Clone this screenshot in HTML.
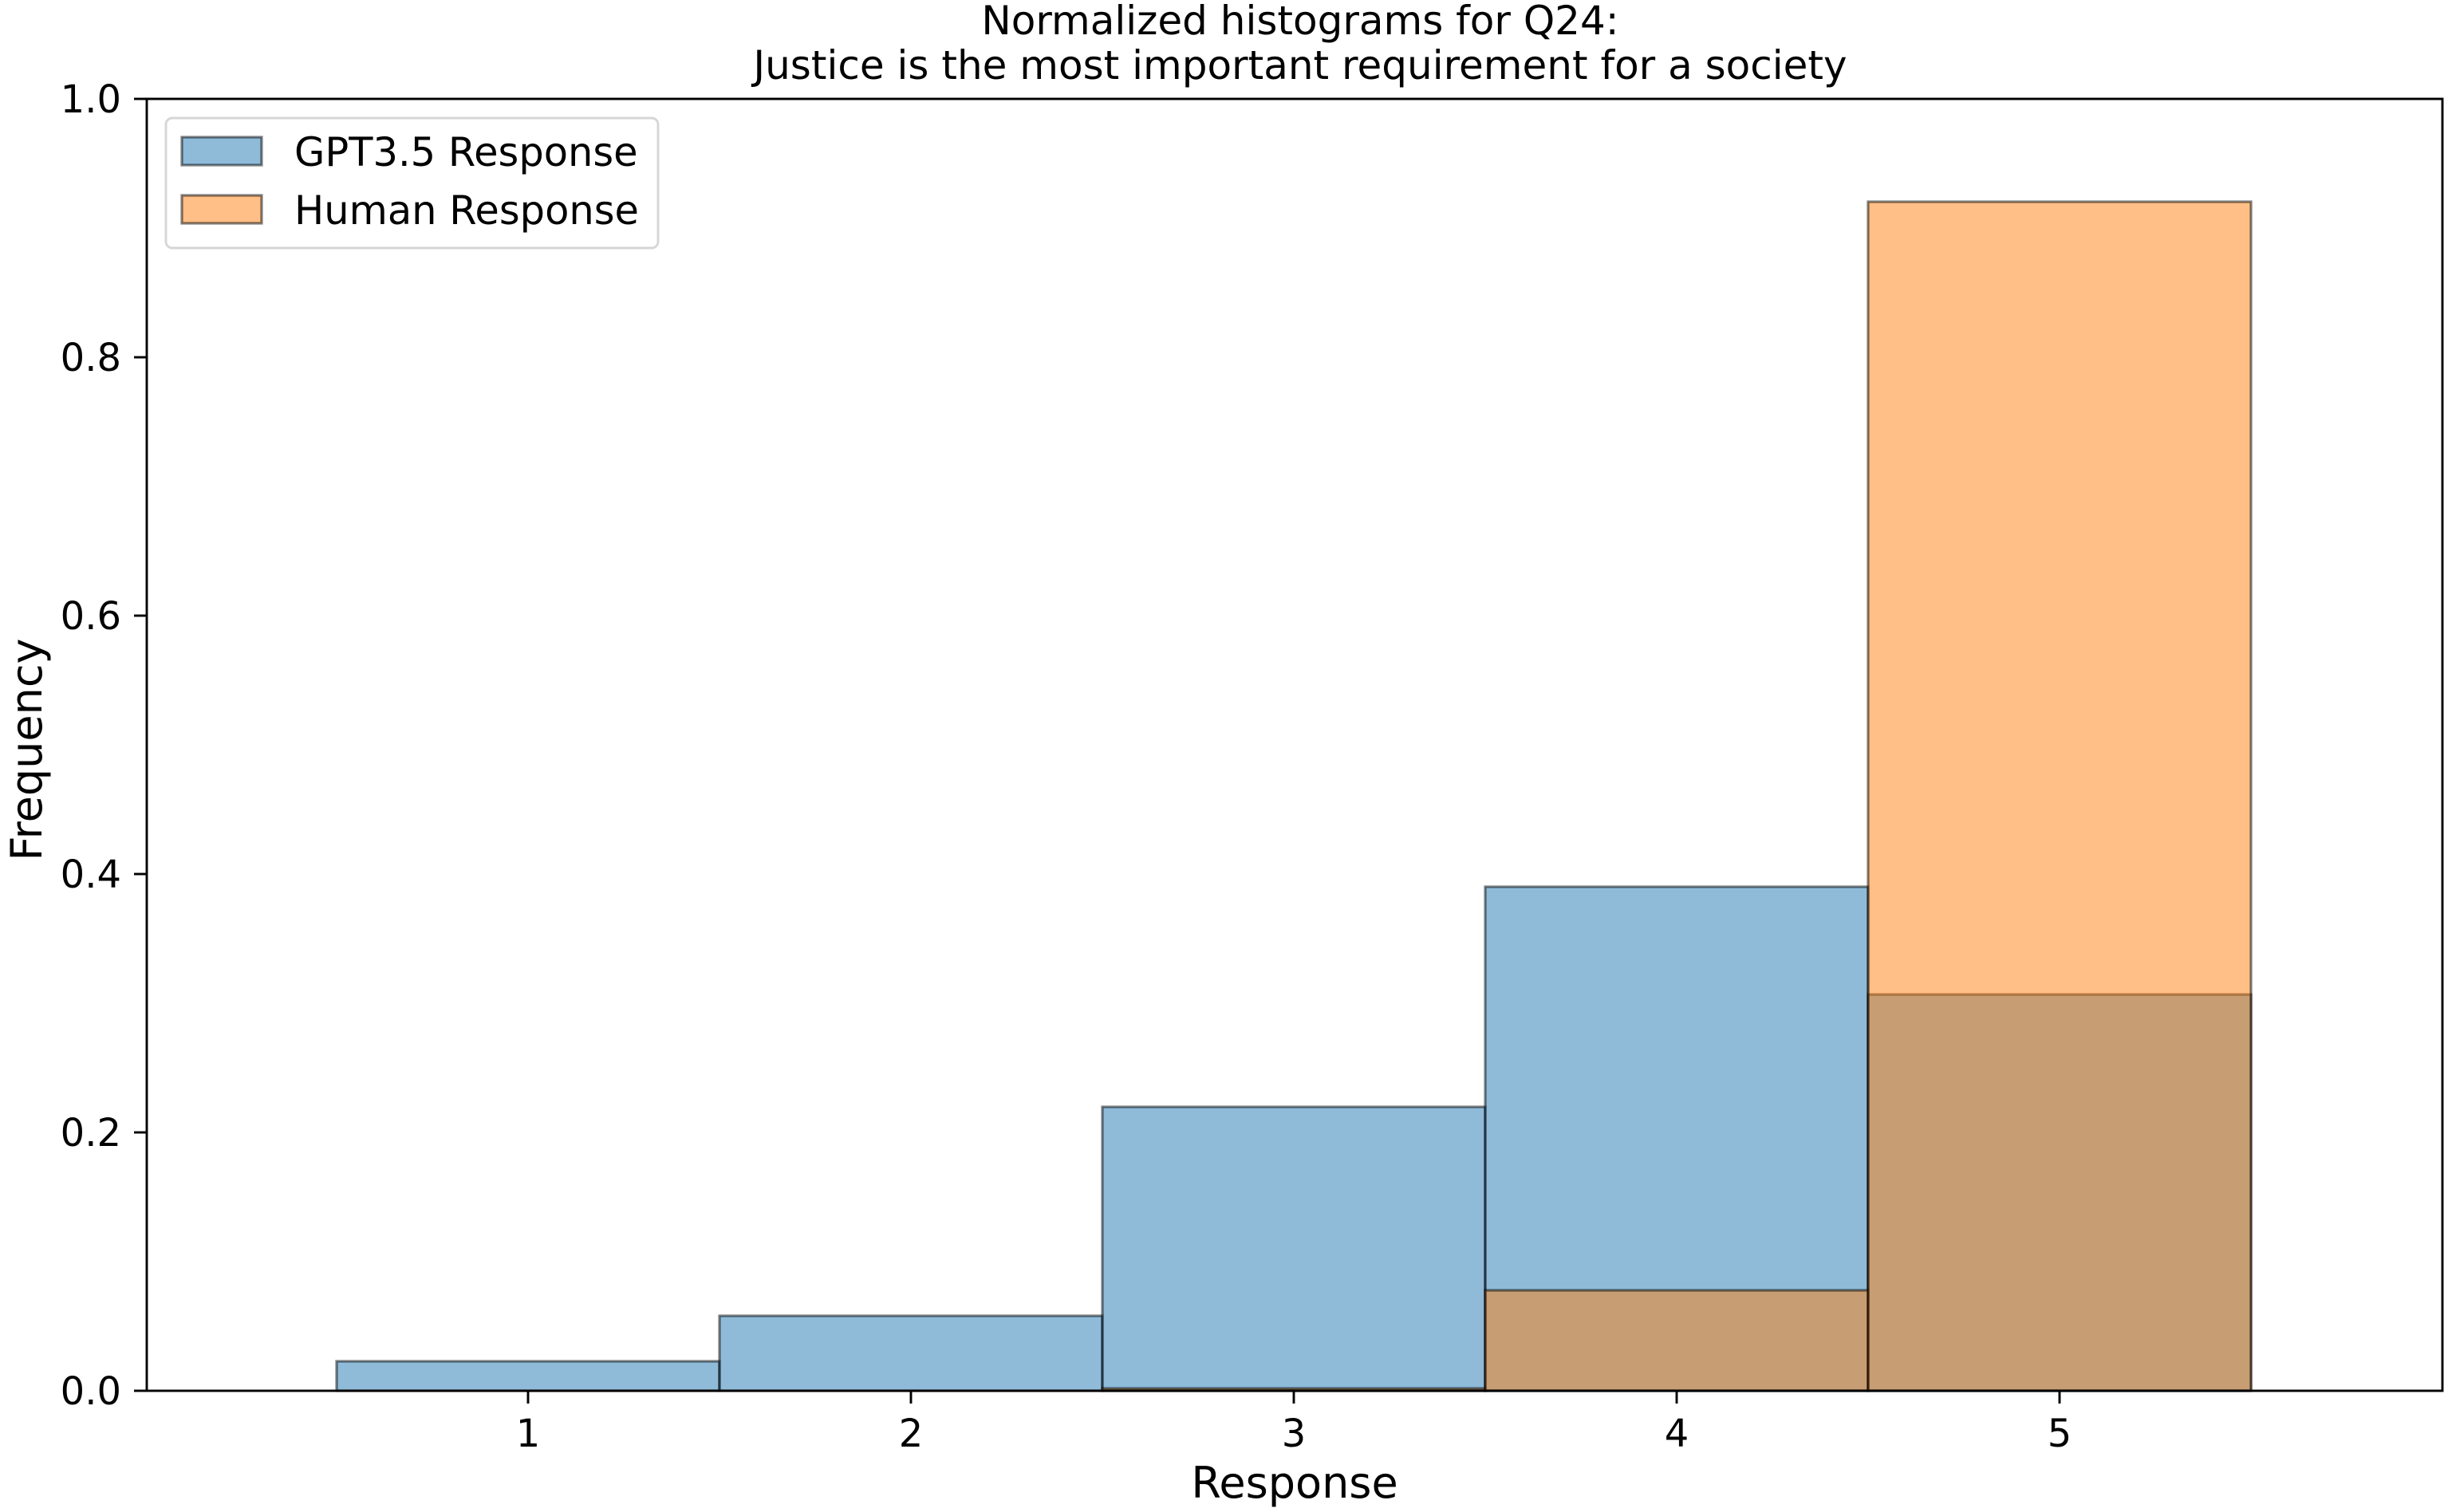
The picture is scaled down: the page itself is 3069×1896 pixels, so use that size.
<!DOCTYPE html>
<html><head><style>
html,body{margin:0;padding:0;background:#fff;}
svg{display:block;}
text{font-family:"DejaVu Sans","Liberation Sans",sans-serif;fill:#000;}
</style></head><body>
<svg width="3069" height="1896" viewBox="0 0 3069 1896" xmlns="http://www.w3.org/2000/svg">
<rect width="3069" height="1896" fill="#fff"/>
<g stroke="#000" stroke-opacity="0.5" stroke-width="3.2">
<rect x="422" y="1707" width="480" height="37" fill="#1f77b4" fill-opacity="0.5"/>
<rect x="902" y="1650" width="480" height="94" fill="#1f77b4" fill-opacity="0.5"/>
<rect x="1382" y="1388" width="480" height="356" fill="#1f77b4" fill-opacity="0.5"/>
<rect x="1862" y="1112" width="480" height="632" fill="#1f77b4" fill-opacity="0.5"/>
<rect x="2342" y="1247" width="480" height="497" fill="#1f77b4" fill-opacity="0.5"/>
<rect x="1382" y="1741" width="480" height="3" fill="#ff7f0e" fill-opacity="0.5"/>
<rect x="1862" y="1618" width="480" height="126" fill="#ff7f0e" fill-opacity="0.5"/>
<rect x="2342" y="253" width="480" height="1491" fill="#ff7f0e" fill-opacity="0.5"/>
</g>
<rect x="184" y="124" width="2878" height="1620" fill="none" stroke="#000" stroke-width="2.9"/>
<g stroke="#000" stroke-width="2.9">
<line x1="168" y1="1744" x2="184" y2="1744"/>
<line x1="168" y1="1420" x2="184" y2="1420"/>
<line x1="168" y1="1096" x2="184" y2="1096"/>
<line x1="168" y1="772" x2="184" y2="772"/>
<line x1="168" y1="448" x2="184" y2="448"/>
<line x1="168" y1="124" x2="184" y2="124"/>
<line x1="662" y1="1744" x2="662" y2="1760"/>
<line x1="1142" y1="1744" x2="1142" y2="1760"/>
<line x1="1622" y1="1744" x2="1622" y2="1760"/>
<line x1="2102" y1="1744" x2="2102" y2="1760"/>
<line x1="2582" y1="1744" x2="2582" y2="1760"/>
</g>
<g font-size="48" text-anchor="middle">
<text x="1623" y="1878" font-size="54">Response</text>
<text x="1630" y="43" font-size="50">Normalized histograms for Q24:</text>
<text x="1630" y="99" font-size="50">Justice is the most important requirement for a society</text>
<text transform="translate(52,940) rotate(-90)" font-size="54">Frequency</text>
<text x="662" y="1814">1</text>
<text x="1142" y="1814">2</text>
<text x="1622" y="1814">3</text>
<text x="2102" y="1814">4</text>
<text x="2582" y="1814">5</text>
</g>
<g font-size="48" text-anchor="end">
<text x="152" y="1761">0.0</text>
<text x="152" y="1437">0.2</text>
<text x="152" y="1113">0.4</text>
<text x="152" y="789">0.6</text>
<text x="152" y="465">0.8</text>
<text x="152" y="141">1.0</text>
</g>
<rect x="208" y="148" width="617" height="163" rx="8" fill="#fff" fill-opacity="0.8" stroke="#d6d6d6" stroke-width="2.9"/>
<rect x="228" y="172" width="100" height="35" fill="#1f77b4" fill-opacity="0.5" stroke="#000" stroke-opacity="0.5" stroke-width="3.2"/>
<rect x="228" y="245" width="100" height="35" fill="#ff7f0e" fill-opacity="0.5" stroke="#000" stroke-opacity="0.5" stroke-width="3.2"/>
<text x="369" y="208" font-size="49.5">GPT3.5 Response</text>
<text x="369" y="281" font-size="49.5">Human Response</text>
</svg>
</body></html>
